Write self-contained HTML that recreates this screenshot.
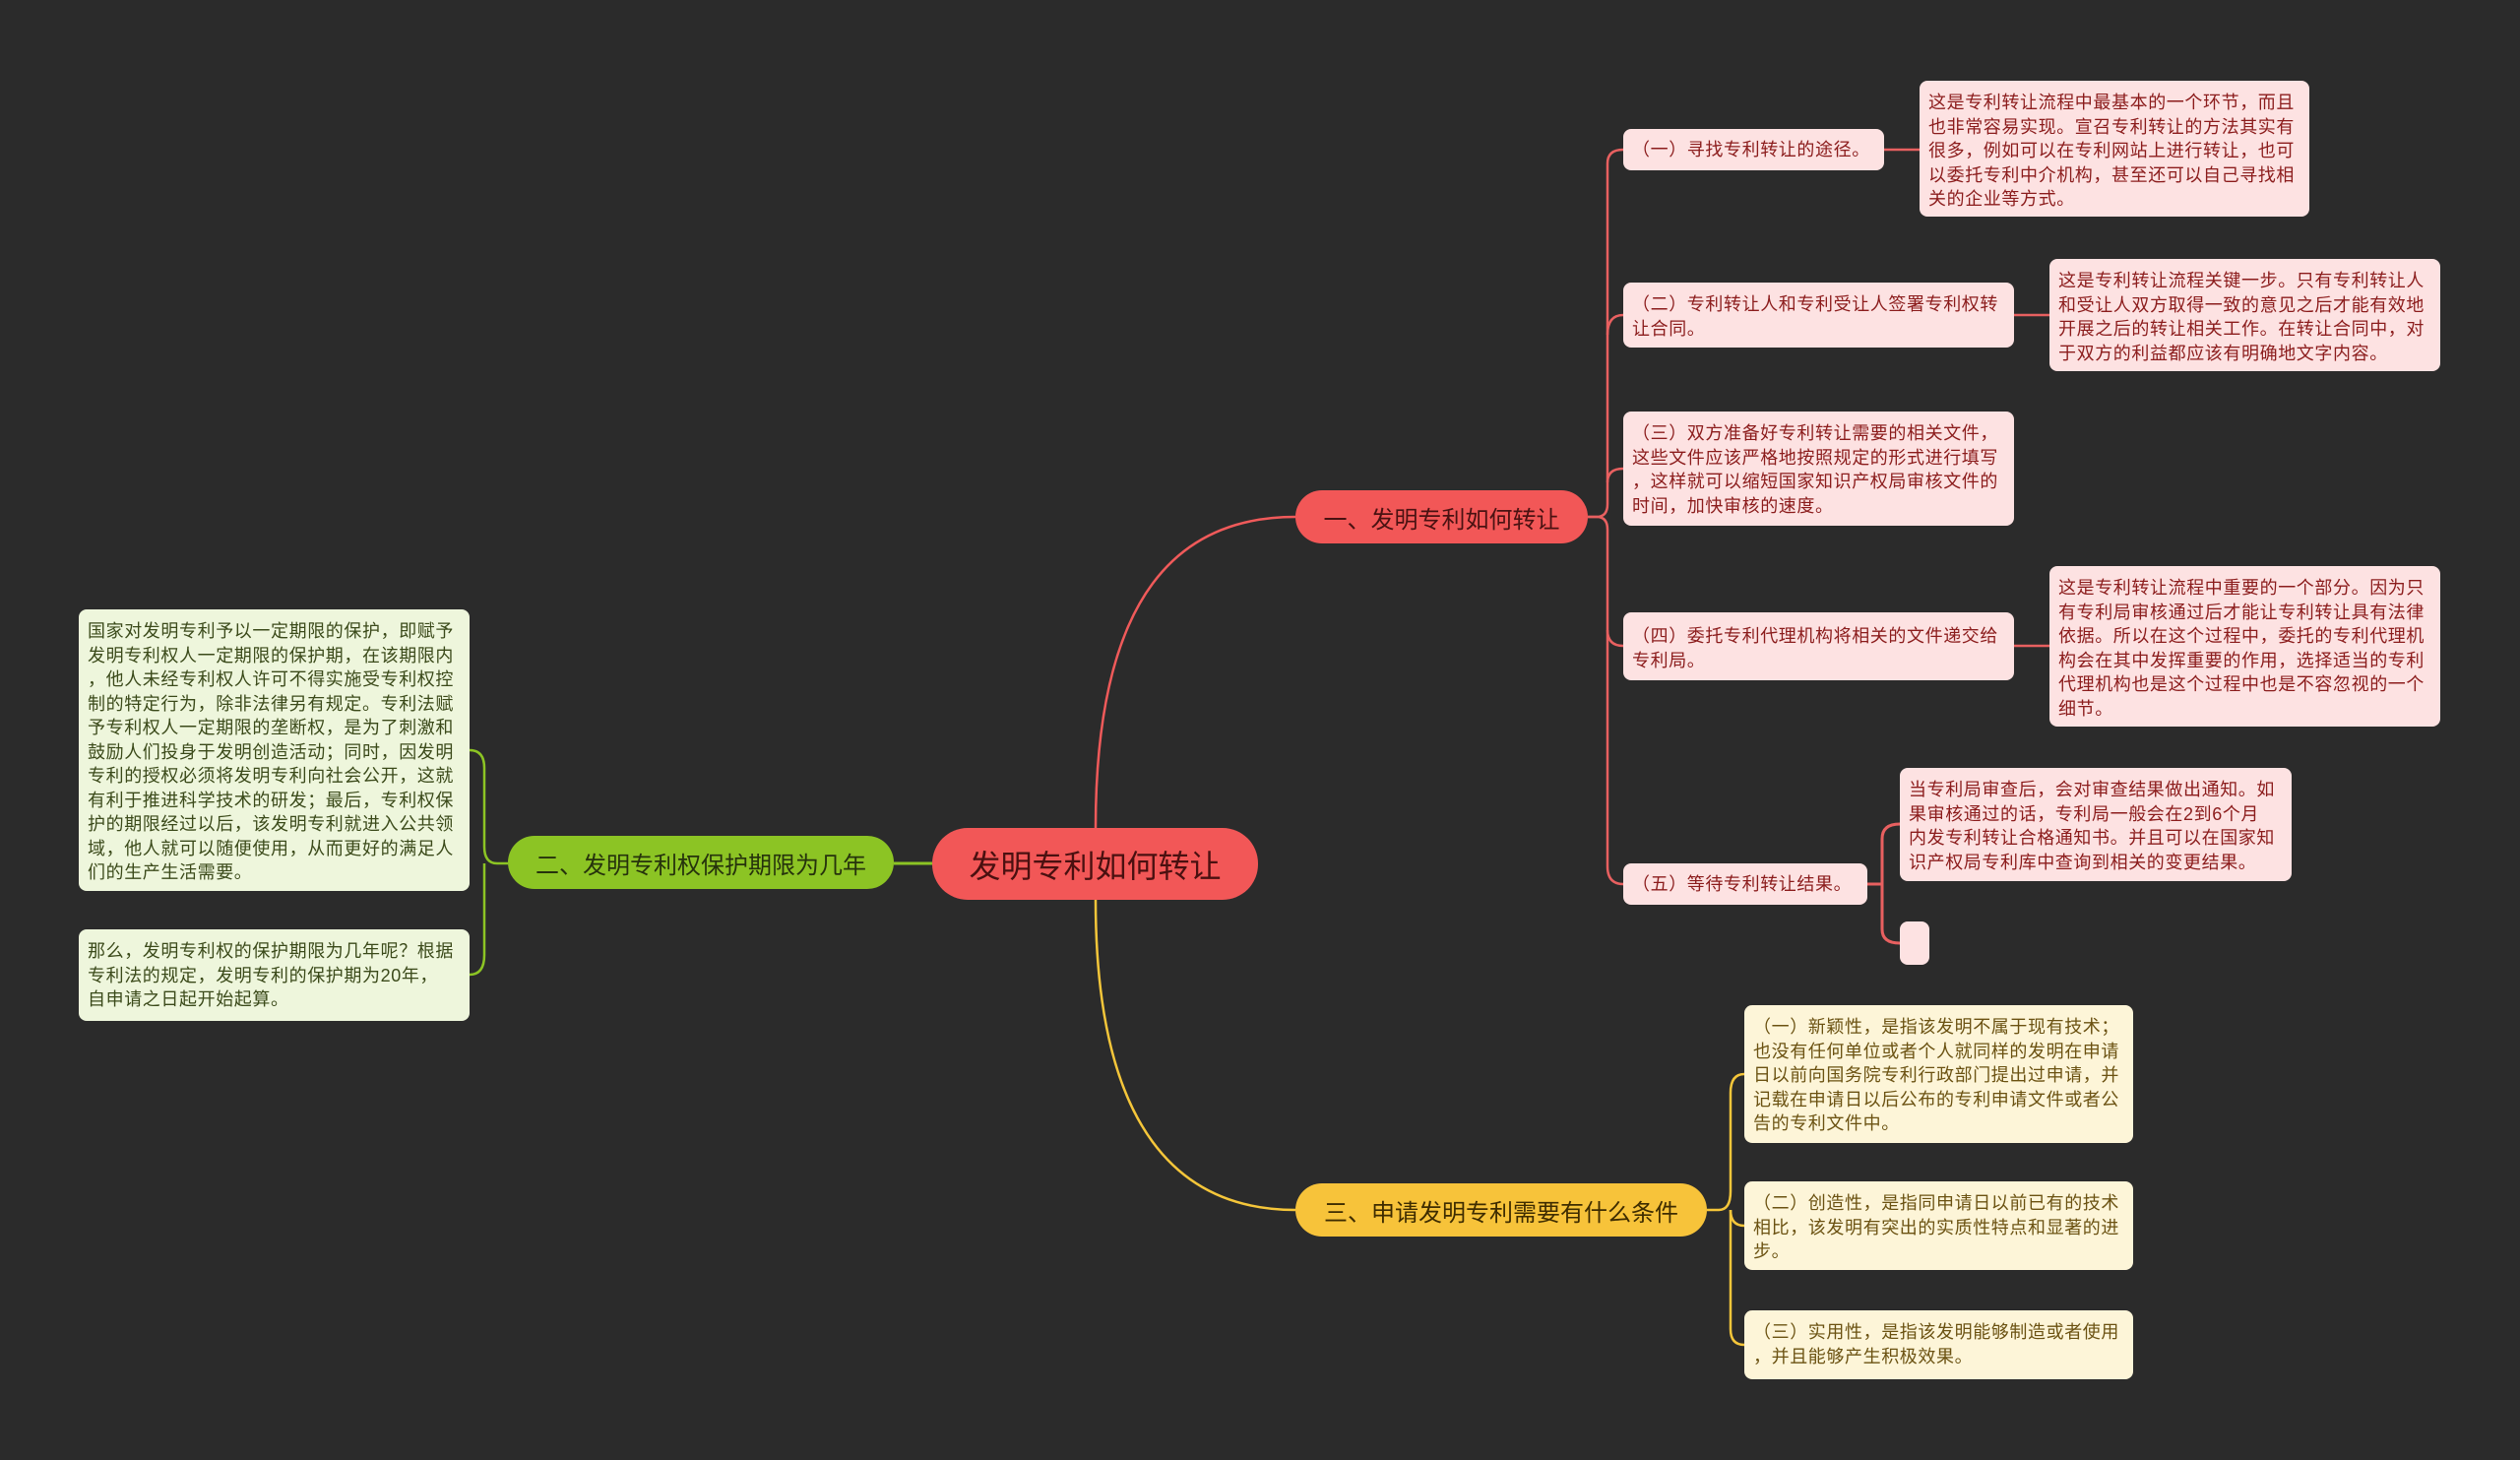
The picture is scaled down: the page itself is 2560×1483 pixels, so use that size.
<!DOCTYPE html>
<html><head><meta charset="utf-8"><style>
body{margin:0;width:2560px;height:1483px;background:#2b2b2b;overflow:hidden;position:relative;font-family:"Liberation Sans","Noto Sans CJK SC",sans-serif}
.n{position:absolute;box-sizing:border-box;border-radius:8px;font-size:18px;letter-spacing:0.6px;line-height:24.5px;padding:10px 9px 7px;white-space:nowrap}
.p{background:#fde2e2;color:#8b1c1c}
.y{background:#fdf5d8;color:#6b5212}
.g{background:#eef6dc;color:#3b4a1a}
.b{position:absolute;box-sizing:border-box;border-radius:27px;font-size:24px;display:flex;align-items:center;justify-content:center;white-space:nowrap}
svg{position:absolute;left:0;top:0}
</style></head><body>
<svg width="2560" height="1483" fill="none" stroke-width="2.5">
<path d="M1113,841 C1113,600 1200,525 1316,525" stroke="#f05a5a"/>
<path d="M1113,914 C1113,1150 1200,1229 1316,1229" stroke="#f5c63a"/>
<path d="M947,877 H908" stroke="#8cc424" stroke-width="3"/>
<g stroke="#e86060">
<path d="M1613,525 H1622 Q1633,525 1633,512 V166 Q1633,152 1649,152"/>
<path d="M1633,340 Q1633,320 1649,320"/>
<path d="M1633,490 Q1633,476 1649,476"/>
<path d="M1613,525 H1622 Q1633,525 1633,538 V640 Q1633,656 1649,656"/>
<path d="M1633,640 V880 Q1633,898 1649,898"/>
<path d="M1914,152 H1950 M2046,320 H2082 M2046,656 H2082"/>
<path d="M1897,898 H1912 M1912,898 V852 Q1912,837 1930,837 M1912,898 V944 Q1912,958 1930,958" stroke-width="3"/>
</g>
<g stroke="#f5c63a">
<path d="M1734,1229 H1746 Q1758,1229 1758,1210 V1110 Q1758,1091 1772,1091"/>
<path d="M1758,1229 Q1758,1245 1772,1245"/>
<path d="M1758,1229 V1350 Q1758,1366 1772,1366"/>
</g>
<g stroke="#8cc424">
<path d="M516,877 H505 Q492,877 492,860 V780 Q492,762 477,762"/>
<path d="M492,877 V970 Q492,990 477,990"/>
</g>
</svg>
<div class="b" style="left:947px;top:841px;width:331px;height:73px;border-radius:36px;background:#f25757;color:#4a1010;font-size:32px">发明专利如何转让</div>
<div class="b" style="left:1316px;top:498px;width:297px;height:54px;background:#f25757;color:#4a1212">一、发明专利如何转让</div>
<div class="b" style="left:516px;top:849px;width:392px;height:54px;background:#8cc424;color:#26330c">二、发明专利权保护期限为几年</div>
<div class="b" style="left:1316px;top:1202px;width:418px;height:54px;background:#f7c33a;color:#3e2c00">三、申请发明专利需要有什么条件</div>

<div class="n p" style="left:1649px;top:131px;width:265px;height:42px;padding-top:9px">（一）寻找专利转让的途径。</div>
<div class="n p" style="left:1950px;top:82px;width:396px;height:138px">这是专利转让流程中最基本的一个环节，而且<br>也非常容易实现。宣召专利转让的方法其实有<br>很多，例如可以在专利网站上进行转让，也可<br>以委托专利中介机构，甚至还可以自己寻找相<br>关的企业等方式。</div>
<div class="n p" style="left:1649px;top:287px;width:397px;height:66px">（二）专利转让人和专利受让人签署专利权转<br>让合同。</div>
<div class="n p" style="left:2082px;top:263px;width:397px;height:114px">这是专利转让流程关键一步。只有专利转让人<br>和受让人双方取得一致的意见之后才能有效地<br>开展之后的转让相关工作。在转让合同中，对<br>于双方的利益都应该有明确地文字内容。</div>
<div class="n p" style="left:1649px;top:418px;width:397px;height:116px">（三）双方准备好专利转让需要的相关文件，<br>这些文件应该严格地按照规定的形式进行填写<br>，这样就可以缩短国家知识产权局审核文件的<br>时间，加快审核的速度。</div>
<div class="n p" style="left:1649px;top:622px;width:397px;height:69px;padding-top:12px">（四）委托专利代理机构将相关的文件递交给<br>专利局。</div>
<div class="n p" style="left:2082px;top:575px;width:397px;height:163px">这是专利转让流程中重要的一个部分。因为只<br>有专利局审核通过后才能让专利转让具有法律<br>依据。所以在这个过程中，委托的专利代理机<br>构会在其中发挥重要的作用，选择适当的专利<br>代理机构也是这个过程中也是不容忽视的一个<br>细节。</div>
<div class="n p" style="left:1649px;top:877px;width:248px;height:42px;padding-top:9px">（五）等待专利转让结果。</div>
<div class="n p" style="left:1930px;top:780px;width:398px;height:115px">当专利局审查后，会对审查结果做出通知。如<br>果审核通过的话，专利局一般会在2到6个月<br>内发专利转让合格通知书。并且可以在国家知<br>识产权局专利库中查询到相关的变更结果。</div>
<div class="n p" style="left:1930px;top:936px;width:30px;height:44px;padding:0"></div>

<div class="n y" style="left:1772px;top:1021px;width:395px;height:140px">（一）新颖性，是指该发明不属于现有技术；<br>也没有任何单位或者个人就同样的发明在申请<br>日以前向国务院专利行政部门提出过申请，并<br>记载在申请日以后公布的专利申请文件或者公<br>告的专利文件中。</div>
<div class="n y" style="left:1772px;top:1200px;width:395px;height:90px">（二）创造性，是指同申请日以前已有的技术<br>相比，该发明有突出的实质性特点和显著的进<br>步。</div>
<div class="n y" style="left:1772px;top:1331px;width:395px;height:70px">（三）实用性，是指该发明能够制造或者使用<br>，并且能够产生积极效果。</div>

<div class="n g" style="left:80px;top:619px;width:397px;height:286px">国家对发明专利予以一定期限的保护，即赋予<br>发明专利权人一定期限的保护期，在该期限内<br>，他人未经专利权人许可不得实施受专利权控<br>制的特定行为，除非法律另有规定。专利法赋<br>予专利权人一定期限的垄断权，是为了刺激和<br>鼓励人们投身于发明创造活动；同时，因发明<br>专利的授权必须将发明专利向社会公开，这就<br>有利于推进科学技术的研发；最后，专利权保<br>护的期限经过以后，该发明专利就进入公共领<br>域，他人就可以随便使用，从而更好的满足人<br>们的生产生活需要。</div>
<div class="n g" style="left:80px;top:944px;width:397px;height:93px">那么，发明专利权的保护期限为几年呢？根据<br>专利法的规定，发明专利的保护期为20年，<br>自申请之日起开始起算。</div>
</body></html>
